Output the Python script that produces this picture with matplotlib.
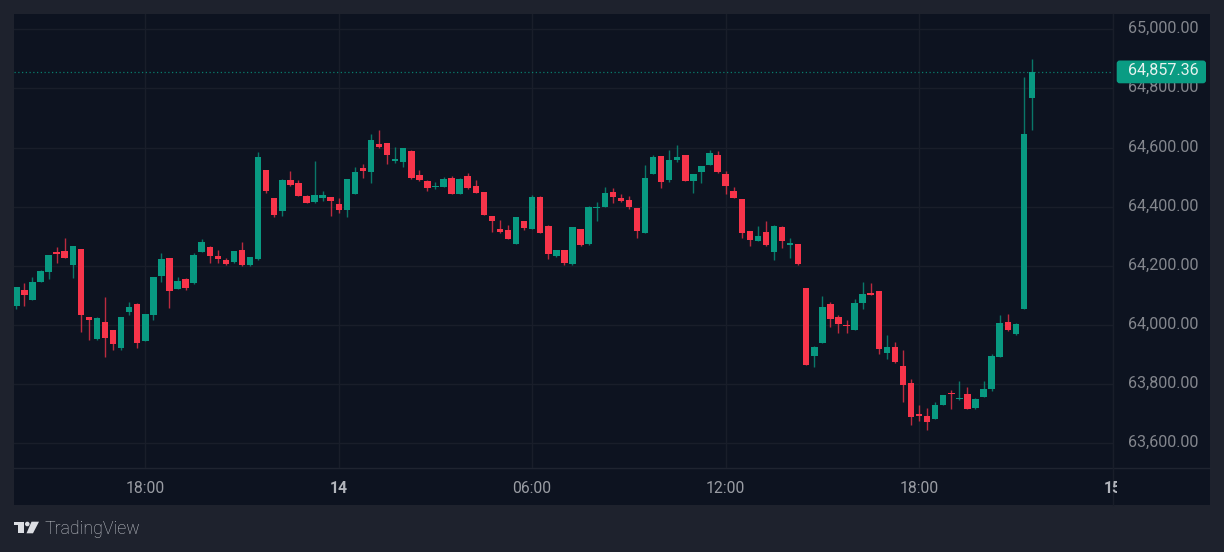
import matplotlib
matplotlib.use("Agg")
import matplotlib.pyplot as plt
from matplotlib.patches import Rectangle, FancyBboxPatch, Polygon, Circle
from matplotlib.transforms import Bbox, ScaledTranslation

# 15 minute candles
opens = [64063,64117,64086,64145,64178,64247,64250,64202,64257,64026,63951,64010,63982,63921,64044,64071,
         63944,64033,64165,64227,64122,64157,64141,64248,64265,64234,64220,64212,64252,64203,64222,64523,
         64429,64387,64489,64480,64435,64415,64431,64432,64410,64390,64444,64531,64517,64612,64615,64555,
         64552,64590,64506,64488,64466,64467,64498,64444,64504,64469,64449,64368,64324,64321,64274,64350,
         64326,64434,64336,64232,64254,64205,64323,64273,64394,64399,64449,64429,64424,64396,64312,64512,
         64572,64491,64557,64575,64486,64516,64541,64575,64511,64452,64425,64317,64284,64314,64246,64332,
         64272,64273,64124,63896,63939,64070,64027,64001,63984,64074,64107,64115,63906,63924,63860,63805,
         63698,63691,63683,63729,63770,63748,63765,63718,63756,63783,63893,64011,63968,64055,64767]
highs = [64130,64142,64163,64186,64238,64264,64294,64268,64257,64028,64026,64094,63982,64026,64077,64073,
         64036,64163,64242,64228,64161,64158,64242,64291,64266,64254,64227,64250,64280,64230,64584,64524,
         64431,64493,64520,64489,64439,64555,64454,64433,64428,64494,64534,64544,64646,64659,64617,64603,
         64599,64591,64524,64489,64484,64502,64504,64496,64514,64489,64450,64369,64356,64337,64366,64351,
         64439,64435,64337,64254,64255,64331,64325,64402,64415,64468,64463,64442,64436,64397,64541,64574,
         64573,64592,64610,64576,64511,64539,64592,64587,64522,64467,64426,64318,64335,64352,64337,64334,
         64293,64274,64125,63929,64099,64078,64034,64018,64087,64145,64142,64116,63966,63942,63915,63818,
         63728,63719,63740,63763,63781,63812,63790,63752,63809,63903,64034,64038,64006,64839,64900]
lows = [64054,64065,64086,64145,64156,64210,64225,64160,63977,63949,63948,63892,63916,63916,64035,63923,
        63944,64017,64145,64059,64121,64119,64140,64247,64210,64211,64204,64211,64201,64198,64221,64445,
        64365,64367,64470,64435,64413,64414,64419,64369,64380,64365,64443,64497,64481,64600,64544,64549,
        64535,64495,64488,64453,64461,64466,64443,64443,64461,64446,64371,64316,64312,64291,64273,64320,
        64325,64311,64223,64230,64203,64204,64268,64272,64352,64398,64414,64417,64392,64294,64311,64511,
        64463,64482,64552,64486,64446,64479,64540,64515,64442,64428,64293,64267,64283,64268,64220,64260,
        64225,64204,63864,63858,63938,63993,63973,63972,63983,64055,64101,63903,63886,63871,63740,63663,
        63675,63645,63682,63728,63716,63747,63716,63714,63755,63777,63892,63981,63967,64054,64659]
closes = [64130,64100,64145,64183,64238,64239,64227,64268,64032,64018,64024,63955,63936,64026,64061,63940,
          64036,64163,64223,64115,64148,64126,64236,64282,64233,64224,64205,64250,64202,64229,64567,64454,
          64373,64489,64475,64436,64414,64440,64440,64418,64390,64493,64519,64521,64625,64601,64574,64561,
          64599,64496,64489,64464,64471,64493,64444,64495,64464,64448,64372,64350,64313,64292,64365,64327,
          64433,64312,64239,64253,64211,64330,64269,64398,64399,64446,64433,64418,64399,64317,64498,64568,
          64485,64559,64567,64487,64510,64538,64581,64516,64471,64429,64310,64287,64300,64269,64336,64283,
          64276,64205,63865,63924,64061,64019,64003,63998,64075,64106,64102,63918,63924,63873,63798,63687,
          63691,63673,63730,63762,63767,63752,63717,63750,63783,63895,64007,63982,64004,64646,64857.36]

price_ticks = [63600, 63800, 64000, 64200, 64400, 64600, 64800, 65000]
time_ticks = [16, 40, 64, 88, 112, 136]
time_labels = ["18:00", "14", "06:00", "12:00", "18:00", "15"]

UP = "#089981"
DOWN = "#f7344a"
PAGE = "#1e222d"
PANE = "#0d1320"
GRID = "#191e2a"
W, H = 1224, 552

plt.rcParams["font.family"] = ["Roboto", "DejaVu Sans"]
fig = plt.figure(figsize=(W / 100, H / 100), dpi=100, facecolor=PAGE)

# background panel, pixel coordinates
bg = fig.add_axes([0, 0, 1, 1], zorder=0)
bg.set_xlim(0, W)
bg.set_ylim(H, 0)
bg.axis("off")
bg.add_patch(Rectangle((14, 14), 1196, 490.5, fc=PANE, ec="none"))
bg.plot([14, 1210], [467.8, 467.8], color="#1f2430", lw=1)
bg.plot([1113, 1113], [14, 504.5], color="#191e2a", lw=1)

ax = fig.add_axes([14 / W, 1 - 468 / H, 1099 / W, 454 / H], zorder=1)
ax.patch.set_alpha(0)
ax.set_xlim(-0.29, 136.06)
ax.set_ylim(63516, 65052)
for s in ax.spines.values():
    s.set_visible(False)
ax.grid(True, color=GRID, lw=1)
ax.set_axisbelow(True)

xs = list(range(len(closes)))
for i in xs:
    col = UP if closes[i] >= opens[i] else DOWN
    ax.vlines(i, lows[i], highs[i], color=col, lw=1, alpha=0.75, zorder=3)
    ax.bar(i, abs(closes[i] - opens[i]), bottom=min(opens[i], closes[i]), width=0.8, color=col, zorder=4)

ax.axhline(closes[-1], color=UP, lw=0.9, ls=(0, (1, 2)), alpha=0.8, zorder=2)

ax.yaxis.tick_right()
ax.set_yticks(price_ticks)
ax.set_yticklabels([f"{p:,.2f}" for p in price_ticks])
ax.tick_params(axis="y", length=0, pad=10.5, labelsize=11.6, labelcolor="#83868d")
ax.set_xticks(time_ticks)
ax.set_xticklabels(time_labels)
ax.tick_params(axis="x", length=0, pad=9.5, labelsize=11.3, labelcolor="#9a9da4")

# price labels sit a bit above their grid lines
lift = ScaledTranslation(0, 2.2 / 100, fig.dpi_scale_trans)
for lbl in ax.get_yticklabels():
    lbl.set_transform(lbl.get_transform() + lift)

# the day labels are heavier, and the last one is cut off at the pane edge
clip = Bbox([[14, 0], [1116.6, H]])
for lbl, txt in zip(ax.get_xticklabels(), time_labels):
    if ":" not in txt:
        lbl.set_fontweight("bold")
        lbl.set_color("#b2b5bc")
    lbl.set_clip_on(True)
    lbl.set_clip_box(clip)

# price tag and logo on top
top = fig.add_axes([0, 0, 1, 1], zorder=2)
top.set_xlim(0, W)
top.set_ylim(H, 0)
top.axis("off")
top.add_patch(FancyBboxPatch((1118.7, 62.5), 85.3, 18.8, boxstyle="round,pad=2,rounding_size=3",
                             fc="#0a9c83", ec="none"))
top.text(1128, 70.8, f"{closes[-1]:,.2f}", color="#e6f2ef", fontsize=11.6, va="center", ha="left")

LOGO = "#dcdee3"
top.add_patch(Polygon([(13.7, 521.7), (23.7, 521.7), (23.7, 533.3), (18.3, 533.3), (18.3, 525.3), (13.7, 525.3)],
                      fc=LOGO, ec="none"))
top.add_patch(Circle((27.3, 524), 2.3, fc=LOGO, ec="none"))
top.add_patch(Polygon([(39, 521.7), (31.5, 521.7), (26.5, 533.3), (33, 533.3)], fc=LOGO, ec="none"))
top.text(44.5, 529.5, "TradingView", color="#c4c7cd", fontsize=12.8, fontweight="light", va="center", ha="left")

fig.savefig("out.png", dpi=100, facecolor=PAGE)
